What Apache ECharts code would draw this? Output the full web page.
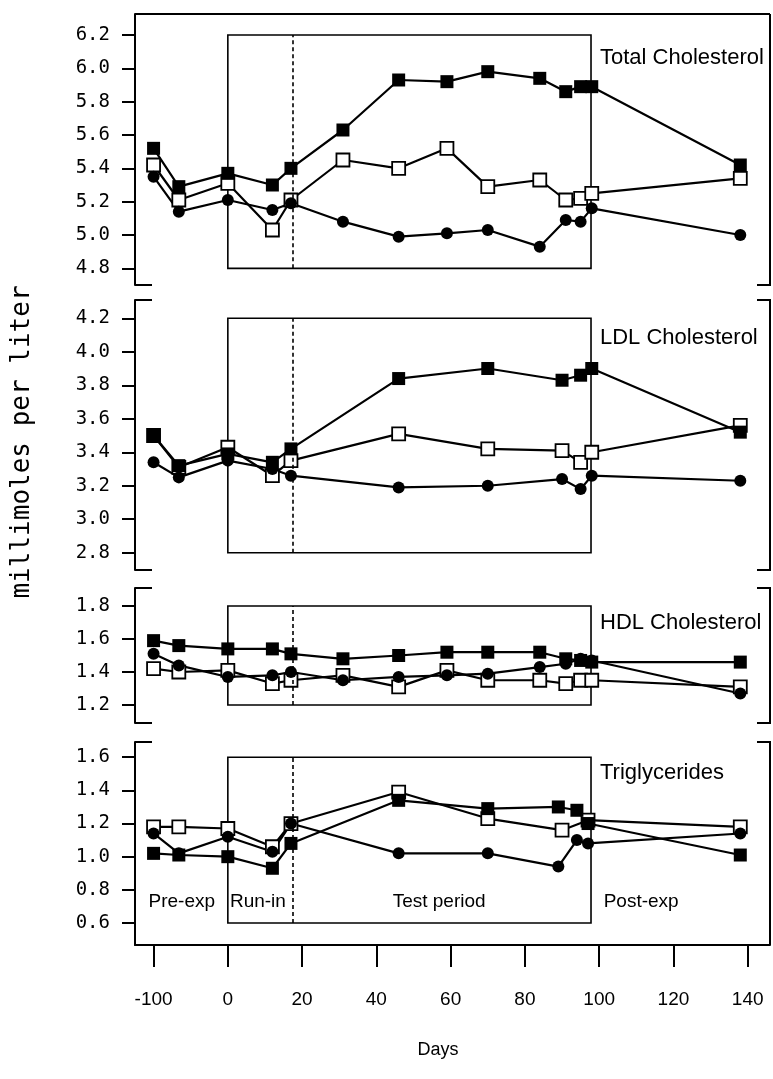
<!DOCTYPE html>
<html><head><meta charset="utf-8">
<script src="https://cdn.jsdelivr.net/npm/echarts@6/dist/echarts.min.js"></script>
<style>html,body{margin:0;padding:0;background:#fff}#c{width:773px;height:1079px}</style>
</head><body><div id="c"></div>
<script>
// ---------- data ----------
const tcDays  = [-100, -66, 0, 12, 17, 31, 46, 59, 70, 84, 91, 95, 98, 138];
const ldlDays = [-100, -66, 0, 12, 17, 46, 70, 90, 95, 98, 138];
const tgDays  = [-100, -66, 0, 12, 17, 46, 70, 89, 94, 97, 138];
const tgOpenDays = [-100, -66, 0, 12, 17, 46, 70, 90, 97, 138];

const tcFilled = [5.52, 5.29, 5.37, 5.30, 5.40, 5.63, 5.93, 5.92, 5.98, 5.94, 5.86, 5.89, 5.89, 5.42];
const tcOpen   = [5.42, 5.21, 5.31, 5.03, 5.21, 5.45, 5.40, 5.52, 5.29, 5.33, 5.21, 5.22, 5.25, 5.34];
const tcCircle = [5.35, 5.14, 5.21, 5.15, 5.19, 5.08, 4.99, 5.01, 5.03, 4.93, 5.09, 5.08, 5.16, 5.00];

const ldlFilled = [3.50, 3.32, 3.39, 3.34, 3.42, 3.84, 3.90, 3.83, 3.86, 3.90, 3.52];
const ldlOpen   = [3.50, 3.31, 3.43, 3.26, 3.35, 3.51, 3.42, 3.41, 3.34, 3.40, 3.56];
const ldlCircle = [3.34, 3.25, 3.35, 3.30, 3.26, 3.19, 3.20, 3.24, 3.18, 3.26, 3.23];

const hdlFilled = [1.59, 1.56, 1.54, 1.54, 1.51, 1.48, 1.50, 1.52, 1.52, 1.52, 1.48, 1.47, 1.46, 1.46];
const hdlOpen   = [1.42, 1.40, 1.41, 1.33, 1.35, 1.38, 1.31, 1.41, 1.35, 1.35, 1.33, 1.35, 1.35, 1.31];
const hdlCircle = [1.51, 1.44, 1.37, 1.38, 1.40, 1.35, 1.37, 1.38, 1.39, 1.43, 1.45, 1.48, 1.47, 1.27];

const tgFilled = [1.02, 1.01, 1.00, 0.93, 1.08, 1.34, 1.29, 1.30, 1.28, 1.20, 1.01];
const tgOpen   = [1.18, 1.18, 1.17, 1.06, 1.20, 1.39, 1.23, 1.16, 1.22, 1.18];
const tgCircle = [1.14, 1.02, 1.12, 1.03, 1.20, 1.02, 1.02, 0.94, 1.10, 1.08, 1.14];

const panelTitles = ['Total Cholesterol', 'LDL Cholesterol', 'HDL Cholesterol', 'Triglycerides'];
const yTicks = [
  [4.8, 5.0, 5.2, 5.4, 5.6, 5.8, 6.0, 6.2],
  [2.8, 3.0, 3.2, 3.4, 3.6, 3.8, 4.0, 4.2],
  [1.2, 1.4, 1.6, 1.8],
  [0.6, 0.8, 1.0, 1.2, 1.4, 1.6]
];
const xTickDays = [-100, 0, 20, 40, 60, 80, 100, 120, 140];
const periodLabels = ['Pre-exp', 'Run-in', 'Test period', 'Post-exp'];
const testStart = 0, testEnd = 97.8, runInEnd = 17.5;

// ---------- layout ----------
const L = 135, R = 770;
const panels = [
  {top: 14,  bottom: 285, min: 4.70,  max: 6.326},
  {top: 300, bottom: 570, min: 2.697, max: 4.309},
  {top: 588, bottom: 723, min: 1.091, max: 1.909},
  {top: 742, bottom: 945, min: 0.467, max: 1.692}
];
// where the period captions sit (axis units) and at which y value
const periodLabelAt = [-12.4, 8.1, 56.9, 111.3];
const periodLabelY = 0.73;
// broken axis: pre-experimental days are compressed by a factor 5
const pos = d => d < 0 ? d / 5 : d;

const chart = echarts.init(document.getElementById('c'));

const grids = panels.map(p => ({left: L, width: R - L, top: p.top, height: p.bottom - p.top}));
const xAxes = panels.map((p, i) => {
  const bottom = i === 3;
  return {
    type: 'value', gridIndex: i, min: -25, max: 146,
    show: bottom,
    axisLine: {show: bottom, onZero: false, lineStyle: {color: '#000', width: 2}},
    axisTick: {show: bottom, customValues: xTickDays.map(pos), length: 22, inside: false,
      lineStyle: {color: '#000', width: 2}},
    axisLabel: {show: bottom, customValues: xTickDays.map(pos), margin: 45,
      formatter: v => (v < 0 ? String(Math.round(v * 5)) : String(Math.round(v))),
      color: '#000', fontSize: 19, fontFamily: 'Liberation Sans, Arial, sans-serif'},
    splitLine: {show: false}
  };
});
const yAxes = panels.map((p, i) => ({
  type: 'value', gridIndex: i, min: p.min, max: p.max,
  axisLine: {show: true, onZero: false, lineStyle: {color: '#000', width: 2}},
  axisTick: {show: true, customValues: yTicks[i], length: 13, lineStyle: {color: '#000', width: 2}},
  axisLabel: {show: true, customValues: yTicks[i], margin: 25, formatter: v => v.toFixed(1),
    color: '#000', fontSize: 19, fontFamily: 'DejaVu Sans Mono, monospace'},
  splitLine: {show: false}
}));

const styles = {
  filled: {symbol: 'rect', symbolSize: 13, itemStyle: {color: '#000', borderColor: '#000', borderWidth: 0}},
  open:   {symbol: 'rect', symbolSize: 13, itemStyle: {color: '#fff', borderColor: '#000', borderWidth: 1.8}},
  circle: {symbol: 'circle', symbolSize: 12, itemStyle: {color: '#000', borderColor: '#000', borderWidth: 0}}
};
function mk(gi, days, vals, kind, extra) {
  const s = Object.assign({
    type: 'line', xAxisIndex: gi, yAxisIndex: gi,
    data: days.map((d, k) => [pos(d), vals[k]]),
    showAllSymbol: true, lineStyle: {color: '#000', width: 2.2}, z: 3,
    emphasis: {disabled: true}, silent: true
  }, styles[kind]);
  return Object.assign(s, extra || {});
}
function boxExtra(gi) {
  const t = yTicks[gi];
  const lo = t[0], hi = t[t.length - 1];
  return {
    markArea: {silent: true, z: 1,
      itemStyle: {color: 'rgba(0,0,0,0)', borderColor: '#000', borderWidth: 1.6},
      data: [[{coord: [testStart, lo]}, {coord: [testEnd, hi]}]]},
    markLine: {silent: true, symbol: ['none', 'none'], label: {show: false},
      lineStyle: {color: '#000', width: 1.6, type: [4, 3]},
      data: [[{coord: [runInEnd, lo]}, {coord: [runInEnd, hi]}]]}
  };
}
const series = [
  mk(0, tcDays, tcOpen, 'open', boxExtra(0)), mk(0, tcDays, tcCircle, 'circle'), mk(0, tcDays, tcFilled, 'filled'),
  mk(1, ldlDays, ldlOpen, 'open', boxExtra(1)), mk(1, ldlDays, ldlCircle, 'circle'), mk(1, ldlDays, ldlFilled, 'filled'),
  mk(2, tcDays, hdlOpen, 'open', boxExtra(2)), mk(2, tcDays, hdlCircle, 'circle'), mk(2, tcDays, hdlFilled, 'filled'),
  mk(3, tgOpenDays, tgOpen, 'open', boxExtra(3)), mk(3, tgDays, tgCircle, 'circle'), mk(3, tgDays, tgFilled, 'filled')
];

chart.setOption({
  animation: false, backgroundColor: '#fff',
  grid: grids, xAxis: xAxes, yAxis: yAxes, series: series
});

// ---------- frame & text graphics ----------
const g = [];
const line = pts => ({type: 'polyline', shape: {points: pts}, style: {stroke: '#000', lineWidth: 2, fill: null}, z: 10, silent: true});
const stubL = 17, stubR = 13;
panels.forEach((p, i) => {
  if (i === 0) g.push(line([[L, p.top], [R, p.top]]));
  else g.push(line([[L, p.top], [L + stubL, p.top]]));
  if (i !== 3) g.push(line([[L, p.bottom], [L + stubL, p.bottom]]));
  if (i === 0) g.push(line([[R, p.top], [R, p.bottom], [R - stubR, p.bottom]]));
  else if (i === 3) g.push(line([[R - stubR, p.top], [R, p.top], [R, p.bottom]]));
  else g.push(line([[R - stubR, p.top], [R, p.top], [R, p.bottom], [R - stubR, p.bottom]]));
});
const titleY = [58, 338, 623, 773];
panelTitles.forEach((t, i) => {
  g.push({type: 'text', x: 600, y: titleY[i], silent: true, z: 10,
    style: {text: t, fill: '#000', font: '22px "Liberation Sans", Arial, sans-serif',
      align: 'left', verticalAlign: 'middle', textAlign: 'left', textVerticalAlign: 'middle'}});
});
periodLabels.forEach((t, k) => {
  const pt = chart.convertToPixel({gridIndex: 3}, [periodLabelAt[k], periodLabelY]);
  g.push({type: 'text', x: pt[0], y: pt[1], silent: true, z: 10,
    style: {text: t, fill: '#000', font: '19px "Liberation Sans", Arial, sans-serif',
      align: 'center', verticalAlign: 'middle', textAlign: 'center', textVerticalAlign: 'middle'}});
});
g.push({type: 'text', x: 22, y: 442, rotation: Math.PI / 2, silent: true, z: 10,
  style: {text: 'millimoles per liter', fill: '#000', font: '26px "DejaVu Sans Mono", monospace',
    align: 'center', verticalAlign: 'middle', textAlign: 'center', textVerticalAlign: 'middle'}});
g.push({type: 'text', x: 438, y: 1050, silent: true, z: 10,
  style: {text: 'Days', fill: '#000', font: '18px "Liberation Sans", Arial, sans-serif',
    align: 'center', verticalAlign: 'middle', textAlign: 'center', textVerticalAlign: 'middle'}});
chart.setOption({graphic: {elements: g}});
</script></body></html>
